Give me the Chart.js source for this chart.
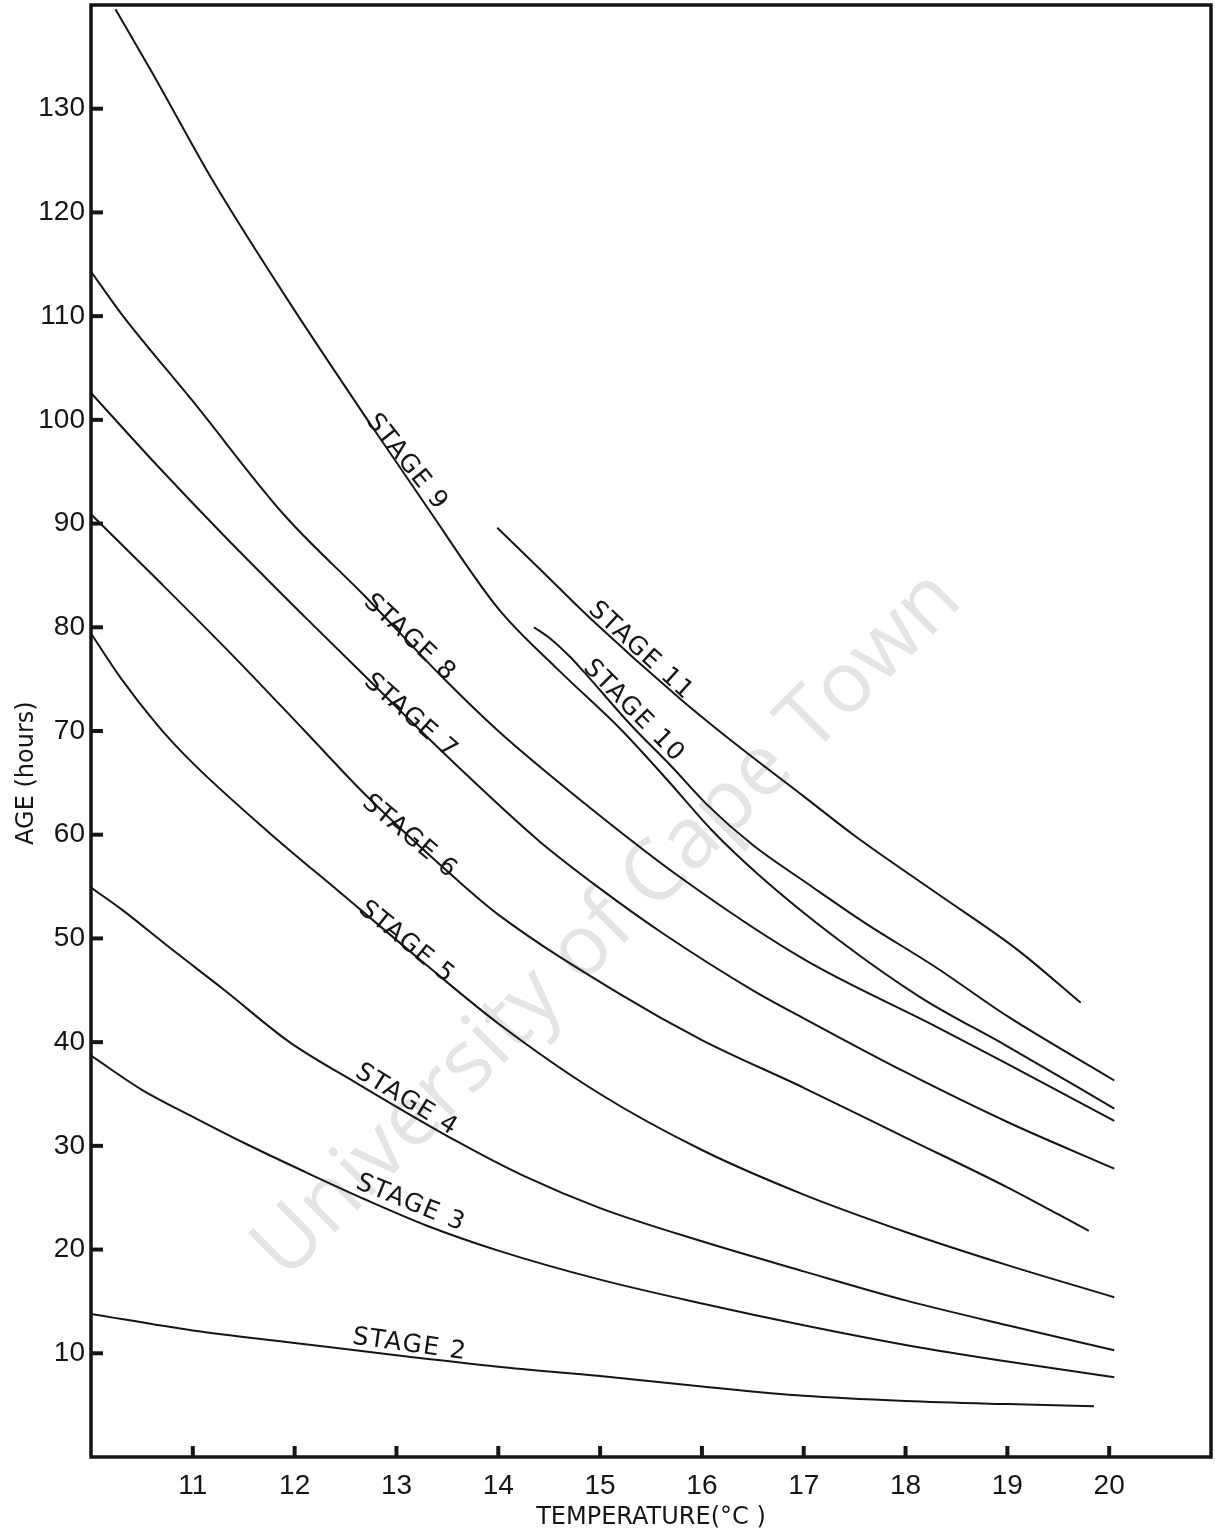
<!DOCTYPE html>
<html>
<head>
<meta charset="utf-8">
<script src="https://cdn.jsdelivr.net/npm/chart.js@4/dist/chart.umd.min.js"></script>
<style>
html,body{margin:0;padding:0;background:#fff;}
#wrap{width:1215px;height:1533px;position:relative;}
</style>
</head>
<body>
<div id="wrap"><canvas id="c"></canvas></div>
<script>
// ---- data ----
const stage2T = [10, 11, 12, 13, 14, 15, 16, 17, 18, 19, 19.85];
const stage2V = [13.8, 12.2, 11.0, 9.8, 8.7, 7.8, 6.8, 5.9, 5.4, 5.1, 4.9];

const stage3T = [10, 10.5, 11, 11.5, 12.1, 12.7, 13.3, 14, 15, 16, 17, 18, 19, 20.05];
const stage3V = [38.7, 35.4, 32.8, 30.3, 27.5, 24.8, 22.3, 19.9, 17.1, 14.8, 12.7, 10.8, 9.2, 7.7];

const stage4T = [10, 10.3, 10.8, 11.3, 11.95, 12.6, 13.6, 14.25, 15, 16, 17, 18, 19, 20.05];
const stage4V = [54.9, 52.8, 48.9, 45.1, 40.0, 36.1, 30.4, 27.1, 24.0, 20.8, 17.9, 15.1, 12.7, 10.3];

const stage5T = [10, 10.3, 10.65, 11, 11.75, 12.45, 13.25, 14, 15, 16, 17, 18, 19, 20.05];
const stage5V = [79.4, 75.0, 70.6, 66.9, 60.2, 54.4, 47.8, 41.8, 35.0, 29.6, 25.3, 21.7, 18.5, 15.4];

const stage6T = [10, 10.65, 11.4, 12.1, 12.7, 13.6, 14, 15.2, 16, 17, 18, 19, 19.8];
const stage6V = [90.9, 84.6, 77.2, 70.0, 63.8, 55.6, 52.3, 44.6, 40.2, 35.6, 30.8, 26.0, 21.8];

const stage7T = [10, 10.65, 11.3, 12.1, 12.7, 13.6, 14.4, 15, 15.6, 16.5, 17, 18, 19, 20.05];
const stage7V = [102.6, 95.6, 88.9, 81.0, 75.2, 66.6, 59.4, 54.8, 50.6, 45.0, 42.3, 37.1, 32.3, 27.8];

const stage8T = [10, 10.3, 11, 11.9, 12.7, 13.45, 14, 14.8, 15.8, 17, 18.3, 19, 20.05];
const stage8V = [114.3, 110.2, 101.8, 90.8, 82.9, 75.2, 70.0, 63.4, 55.8, 48.0, 41.5, 37.9, 32.4];

const stage9T = [10.24, 10.6, 11.2, 11.95, 12.75, 13.3, 14.0, 14.6, 15.2, 15.65, 16.1, 16.55, 17.35, 18.15, 19.0, 20.05];
const stage9V = [139.6, 133.5, 123.0, 111.3, 99.5, 91.6, 81.8, 75.8, 70.2, 65.4, 60.4, 56.2, 49.8, 44.3, 39.6, 33.6];

const stage10T = [14.35, 14.5, 14.7, 14.85, 15.3, 15.7, 16.05, 16.5, 17.05, 17.6, 18.3, 19.0, 20.05];
const stage10V = [80.0, 79.0, 77.2, 75.6, 70.6, 66.6, 62.9, 59.0, 55.2, 51.5, 47.2, 42.5, 36.3];

const stage11T = [13.99, 14.4, 14.9, 15.8, 16.35, 17.0, 17.5, 18.3, 19.1, 19.72];
const stage11V = [89.6, 85.7, 80.9, 73.0, 68.6, 63.7, 59.9, 54.4, 48.9, 43.8];

const stageNames = ['STAGE 2','STAGE 3','STAGE 4','STAGE 5','STAGE 6','STAGE 7','STAGE 8','STAGE 9','STAGE 10','STAGE 11'];

// label anchor (temperature, age) and text angle in degrees
const labelT = [13.13, 13.14, 13.10, 13.10, 13.13, 13.14, 13.13, 13.10, 15.33, 15.40];
const labelV = [10.8, 24.45, 34.4, 49.6, 59.8, 71.4, 78.97, 95.9, 71.9, 77.7];
const labelAngle = [8, 22, 31.5, 39, 40, 41.4, 43, 51.5, 45.4, 42.6];

const xTickValues = [11, 12, 13, 14, 15, 16, 17, 18, 19, 20];
const yTickValues = [10, 20, 30, 40, 50, 60, 70, 80, 90, 100, 110, 120, 130];
const xTitle = 'TEMPERATURE(°C )';
const yTitle = 'AGE (hours)';
const watermark = 'University of Cape Town';

// ---- build datasets ----
const seriesT = [stage2T, stage3T, stage4T, stage5T, stage6T, stage7T, stage8T, stage9T, stage10T, stage11T];
const seriesV = [stage2V, stage3V, stage4V, stage5V, stage6V, stage7V, stage8V, stage9V, stage10V, stage11V];

const datasets = stageNames.map((name, k) => ({
  label: name,
  data: seriesT[k].map((t, i) => ({x: t, y: seriesV[k][i]})),
  borderColor: '#151515',
  borderWidth: 2,
  pointRadius: 0,
  fill: false,
  cubicInterpolationMode: 'monotone'
}));

const tickFont = '"Liberation Sans Narrow", "Liberation Sans", sans-serif';

const decor = {
  id: 'decor',
  beforeDatasetsDraw(chart) {
    const {ctx, chartArea: a} = chart;
    ctx.save();
    const cx = a.left + 0.4616 * (a.right - a.left);
    const cy = a.top + 0.6336 * (a.bottom - a.top);
    ctx.translate(cx, cy);
    ctx.rotate(-45 * Math.PI / 180);
    ctx.font = '92px "Open Sans", "Liberation Sans", sans-serif';
    const w = ctx.measureText(watermark).width;
    const size = 92 * 960 / w;
    ctx.font = size.toFixed(1) + 'px "Open Sans", "Liberation Sans", sans-serif';
    ctx.fillStyle = '#e4e4e4';
    ctx.textAlign = 'center';
    ctx.textBaseline = 'middle';
    ctx.fillText(watermark, 0, 0);
    ctx.restore();
  },
  afterDatasetsDraw(chart) {
    const {ctx} = chart;
    const xs = chart.scales.x, ys = chart.scales.y;
    ctx.save();
    ctx.fillStyle = '#151515';
    ctx.font = '25px "DejaVu Sans", sans-serif';
    if ('letterSpacing' in ctx) ctx.letterSpacing = '1.5px';
    ctx.textAlign = 'center';
    ctx.textBaseline = 'middle';
    stageNames.forEach((name, k) => {
      const px = xs.getPixelForValue(labelT[k]);
      const py = ys.getPixelForValue(labelV[k]);
      ctx.save();
      ctx.translate(px, py);
      ctx.rotate(labelAngle[k] * Math.PI / 180);
      ctx.fillText(name, 0, 0);
      ctx.restore();
    });
    ctx.restore();
  },
  afterDraw(chart) {
    const {ctx, chartArea: a} = chart;
    const xs = chart.scales.x, ys = chart.scales.y;
    ctx.save();
    ctx.strokeStyle = '#151515';
    ctx.lineWidth = 3.5;
    ctx.strokeRect(a.left, a.top, a.right - a.left, a.bottom - a.top);
    ctx.lineWidth = 4;
    ys.ticks.forEach(t => {
      const py = ys.getPixelForValue(t.value);
      ctx.beginPath(); ctx.moveTo(a.left, py); ctx.lineTo(a.left + 12, py); ctx.stroke();
    });
    xs.ticks.forEach(t => {
      const px = xs.getPixelForValue(t.value);
      ctx.beginPath(); ctx.moveTo(px, a.bottom); ctx.lineTo(px, a.bottom - 11); ctx.stroke();
    });
    // y axis title
    ctx.fillStyle = '#151515';
    ctx.font = '24px "DejaVu Sans", sans-serif';
    ctx.textAlign = 'center';
    ctx.textBaseline = 'middle';
    ctx.translate(27, a.top + 0.529 * (a.bottom - a.top));
    ctx.rotate(-Math.PI / 2);
    ctx.fillText(yTitle, 0, 0);
    ctx.restore();
  }
};

new Chart(document.getElementById('c'), {
  type: 'line',
  data: {datasets},
  plugins: [decor],
  options: {
    responsive: true,
    maintainAspectRatio: false,
    animation: false,
    layout: {padding: {top: 5, right: 4, bottom: 0, left: 0}, autoPadding: false},
    plugins: {legend: {display: false}, tooltip: {enabled: false}},
    scales: {
      x: {
        type: 'linear', min: 10, max: 21,
        afterBuildTicks: s => { s.ticks = xTickValues.map(v => ({value: v})); },
        afterFit: s => { s.height = 76; s.paddingLeft = 0; s.paddingRight = 0; },
        grid: {display: false, drawTicks: false},
        border: {display: false},
        ticks: {padding: 12, color: '#151515', autoSkip: false, maxRotation: 0,
                font: {family: tickFont, size: 28}},
        title: {display: true, text: xTitle, color: '#151515',
                font: {family: '"DejaVu Sans", sans-serif', size: 24}, padding: {top: 0, bottom: 1}}
      },
      y: {
        type: 'linear', min: 0, max: 140,
        afterBuildTicks: s => { s.ticks = yTickValues.map(v => ({value: v})); },
        afterFit: s => { s.width = 91; s.paddingTop = 0; s.paddingBottom = 0; },
        grid: {display: false, drawTicks: false},
        border: {display: false},
        ticks: {padding: 6, color: '#151515', autoSkip: false,
                font: {family: tickFont, size: 28}},
        title: {display: false}
      }
    }
  }
});
</script>
</body>
</html>
